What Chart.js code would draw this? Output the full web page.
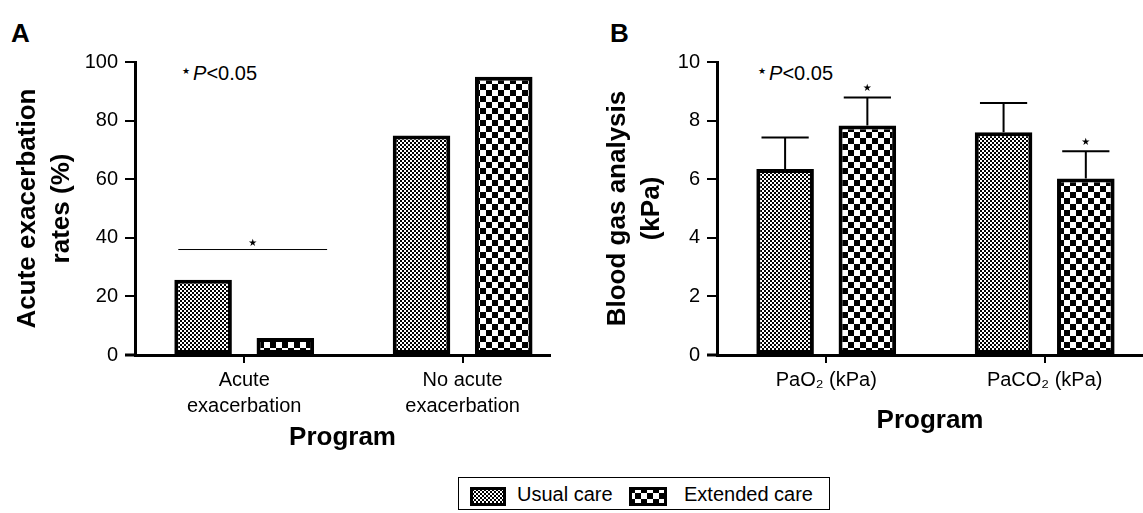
<!DOCTYPE html>
<html>
<head>
<meta charset="utf-8">
<script src="https://cdn.jsdelivr.net/npm/chart.js@4.4.1/dist/chart.umd.min.js"></script>
<style>
  body { margin:0; width:1143px; height:513px; overflow:hidden; background:#fff; position:relative;
         font-family:"Liberation Sans", Arial, sans-serif; color:#000; }
  .panel { position:absolute; top:0; height:460px; }
  #wrapA { left:0; width:560px; }
  #wrapB { left:590px; width:553px; }
  .letter { position:absolute; top:20px; font-weight:bold; font-size:26px; line-height:26px; }
  .pval { position:absolute; top:63px; font-size:20px; line-height:20px; white-space:nowrap; }
  .pval .star { font-family:"DejaVu Sans"; font-size:9px; position:relative; top:-6px; margin-right:3px; }
  #legend { position:absolute; left:458px; top:477px; width:372px; height:33px; border:1px solid #000; box-sizing:border-box; }
  #legend canvas { position:absolute; top:9px; }
  #legend span { position:absolute; top:6px; font-size:20px; line-height:20px; white-space:nowrap; }
</style>
</head>
<body>
<div class="letter" style="left:11px">A</div>
<div class="letter" style="left:610px">B</div>
<div class="pval" style="left:182px"><span class="star">★</span><i>P</i>&lt;0.05</div>
<div class="pval" style="left:758px"><span class="star">★</span><i>P</i>&lt;0.05</div>

<div class="panel" id="wrapA"><canvas id="chartA"></canvas></div>
<div class="panel" id="wrapB"><canvas id="chartB"></canvas></div>

<div id="legend">
  <canvas id="swUsual" width="36" height="19" style="left:11px"></canvas><span style="left:58px">Usual care</span>
  <canvas id="swExtended" width="38" height="19" style="left:170px"></canvas><span style="left:225px">Extended care</span>
</div>

<script>
// panel A
var categoriesA = [['Acute', 'exacerbation'], ['No acute', 'exacerbation']];
var usualA = [25.7, 74.9];
var extendedA = [5.8, 95.0];
var sigLevelA = 36;     // bracket over "Acute exacerbation"
var sigCategoryA = 0;

// panel B
var categoriesB = ['PaO\u2082 (kPa)', 'PaCO\u2082 (kPa)'];
var usualB = [6.35, 7.6];
var usualSdB = [1.07, 1.0];
var extendedB = [7.83, 6.02];
var extendedSdB = [0.96, 0.93];
var starsExtendedB = [true, true];

var seriesNames = ['Usual care', 'Extended care'];

Chart.defaults.font.family = '"Liberation Sans", Arial, sans-serif';
Chart.defaults.color = '#000';

function makePattern(cell) {
  var c = document.createElement('canvas');
  c.width = c.height = cell * 2;
  var g = c.getContext('2d');
  g.fillStyle = '#fff';
  g.fillRect(0, 0, cell * 2, cell * 2);
  g.fillStyle = '#000';
  g.fillRect(0, 0, cell, cell);
  g.fillRect(cell, cell, cell, cell);
  return g.createPattern(c, 'repeat');
}
var fineChecks = makePattern(2);
var coarseChecks = makePattern(6);

function toPoints(values) {
  return values.map(function(v, i) { return { x: i, y: v }; });
}

function makeDatasets(usual, extended) {
  return [
    { label: seriesNames[0], data: toPoints(usual), backgroundColor: fineChecks },
    { label: seriesNames[1], data: toPoints(extended), backgroundColor: coarseChecks }
  ];
}

// extends the x axis line a little to the left of the y axis, like the original
var axisStub = {
  id: 'axisStub',
  afterDraw: function(chart) {
    var a = chart.chartArea, ctx = chart.ctx;
    ctx.save();
    ctx.strokeStyle = '#000';
    ctx.lineWidth = 3;
    ctx.beginPath();
    ctx.moveTo(a.left - 10, a.bottom);
    ctx.lineTo(a.left, a.bottom);
    ctx.stroke();
    ctx.restore();
  }
};

function drawStar(ctx, x, y) {
  ctx.save();
  ctx.fillStyle = '#000';
  ctx.font = '10px "DejaVu Sans"';
  ctx.textAlign = 'center';
  ctx.textBaseline = 'middle';
  ctx.fillText('\u2605', x, y);
  ctx.restore();
}

var sigBracket = {
  id: 'sigBracket',
  afterDatasetsDraw: function(chart) {
    var y = chart.scales.y, ctx = chart.ctx;
    var b0 = chart.getDatasetMeta(0).data[sigCategoryA];
    var b1 = chart.getDatasetMeta(1).data[sigCategoryA];
    var left = b0.x - b0.width / 2 + 4;
    var right = b1.x + b1.width / 2 + 13;
    var py = y.getPixelForValue(sigLevelA);
    ctx.save();
    ctx.strokeStyle = '#000';
    ctx.lineWidth = 1;
    ctx.beginPath();
    ctx.moveTo(left, py);
    ctx.lineTo(right, py);
    ctx.stroke();
    ctx.restore();
    drawStar(ctx, (left + right) / 2, py - 6);
  }
};

var errorBars = {
  id: 'errorBars',
  afterDatasetsDraw: function(chart) {
    var y = chart.scales.y, ctx = chart.ctx;
    var sds = [usualSdB, extendedSdB];
    var vals = [usualB, extendedB];
    ctx.save();
    ctx.strokeStyle = '#000';
    ctx.lineWidth = 2;
    sds.forEach(function(sd, di) {
      chart.getDatasetMeta(di).data.forEach(function(bar, i) {
        var top = y.getPixelForValue(vals[di][i] + sd[i]);
        var half = bar.width * 0.41;
        ctx.beginPath();
        ctx.moveTo(bar.x, bar.y);
        ctx.lineTo(bar.x, top);
        ctx.moveTo(bar.x - half, top);
        ctx.lineTo(bar.x + half, top);
        ctx.stroke();
        if (di === 1 && starsExtendedB[i]) drawStar(ctx, bar.x, top - 9);
      });
    });
    ctx.restore();
  }
};

function makeOptions(o) {
  return {
    responsive: true,
    maintainAspectRatio: false,
    animation: false,
    layout: { padding: { top: 62, right: o.padRight, left: 0, bottom: 0 } },
    datasets: {
      bar: {
        borderColor: '#000',
        borderWidth: 4,
        borderSkipped: false,
        categoryPercentage: 0.753,
        barPercentage: 0.70
      }
    },
    plugins: { legend: { display: false }, tooltip: { enabled: false } },
    scales: {
      x: {
        type: 'linear',
        bounds: 'data',
        offset: false,
        min: -0.5,
        max: o.xMax,
        afterBuildTicks: function(s) {
          s.ticks = o.labels.map(function(_, i) { return { value: i }; });
        },
        ticks: {
          autoSkip: false,
          maxRotation: 0,
          padding: 4,
          font: { size: 20, lineHeight: 1.3 },
          callback: function(v) { return o.labels[v]; }
        },
        grid: { display: true, offset: false, drawOnChartArea: false, drawTicks: true, tickLength: 8, color: '#000', lineWidth: 2 },
        border: { display: true, color: '#000', width: 3 },
        title: { display: true, text: 'Program', color: '#000',
                 font: { size: 26, weight: 'bold', lineHeight: 1.2 },
                 padding: { top: 0, bottom: o.titlePad } },
        afterFit: function(s) { s.height = 105; }
      },
      y: {
        min: 0,
        max: o.yMax,
        ticks: { stepSize: o.step, padding: 7, font: { size: 20 } },
        grid: { display: true, drawOnChartArea: false, drawTicks: true, tickLength: 10, color: '#000', lineWidth: 2 },
        border: { display: true, color: '#000', width: 3 },
        title: { display: true, text: o.yTitle, color: '#000',
                 font: { size: 26, weight: 'bold', lineHeight: 1.3 },
                 padding: { top: 11, bottom: 0 } },
        afterFit: function(s) { s.width = o.yWidth; }
      }
    }
  };
}

new Chart(document.getElementById('chartA'), {
  type: 'bar',
  data: { datasets: makeDatasets(usualA, extendedA) },
  options: makeOptions({
    labels: categoriesA, xMax: 1.4, yMax: 100, step: 20, padRight: 10, yWidth: 135, titlePad: 7,
    yTitle: ['Acute exacerbation', 'rates (%)']
  }),
  plugins: [axisStub, sigBracket]
});

new Chart(document.getElementById('chartB'), {
  type: 'bar',
  data: { datasets: makeDatasets(usualB, extendedB) },
  options: makeOptions({
    labels: categoriesB, xMax: 1.45, yMax: 10, step: 2, padRight: 0, yWidth: 127, titlePad: 24,
    yTitle: ['Blood gas analysis', '(kPa)']
  }),
  plugins: [axisStub, errorBars]
});

function drawSwatch(id, pattern) {
  var c = document.getElementById(id), g = c.getContext('2d');
  g.fillStyle = pattern;
  g.fillRect(0, 0, c.width, c.height);
  g.strokeStyle = '#000';
  g.lineWidth = 3;
  g.strokeRect(1.5, 1.5, c.width - 3, c.height - 3);
}
drawSwatch('swUsual', fineChecks);
drawSwatch('swExtended', coarseChecks);
</script>
</body>
</html>
